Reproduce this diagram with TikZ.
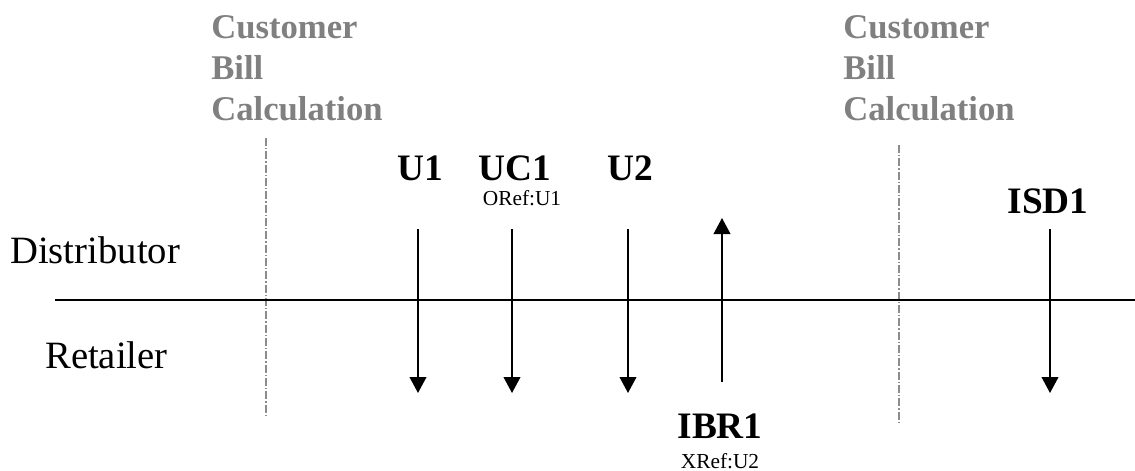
\documentclass[tikz,border=0pt]{standalone}
\usepackage{fontspec}
\setmainfont{Liberation Serif}
\usetikzlibrary{arrows.meta,positioning}

\begin{document}
\begin{tikzpicture}[x=0.75pt,y=-0.75pt,
party/.style={font=\fontsize{29}{34}\selectfont,anchor=base west,inner sep=0pt},
msg/.style={font=\fontsize{28}{33}\selectfont\bfseries,anchor=base,inner sep=0pt},
ref/.style={font=\fontsize{16}{19}\selectfont,anchor=base,inner sep=0pt},
billing/.style={font=\fontsize{26}{30.75}\selectfont\bfseries,text=gray,align=left,anchor=base west,inner sep=0pt},
flow/.style={-{Triangle[length=12pt,width=12.5pt]},line width=1.4pt},
cutoff/.style={gray!90,line width=0.8pt,dash pattern=on 6pt off 1.5pt on 1pt off 1.5pt}
]
\useasboundingbox (0,0) rectangle (1135,471);
% billing cut-offs
\node[billing] (bill1) at (211,120) {Customer\\Bill\\Calculation};
\node[billing] (bill2) at (843,120) {Customer\\Bill\\Calculation};
\coordinate (cut1a) at (266,138);
\coordinate (cut1b) at (266,415);
\coordinate (cut2a) at (899,145);
\coordinate (cut2b) at (899,423);
\draw[cutoff] (cut1a) -- (cut1b);
\draw[cutoff] (cut2a) -- (cut2b);
% parties
\node[party] (dist) at (10,263) {Distributor};
\node[party] (ret) at (45,368) {Retailer};
\coordinate (lineL) at (55,300);
\coordinate (lineR) at (1135,300);
\draw[line width=1.4pt] (lineL) -- (lineR);
% transactions
\node[msg] (u1) at (420,180) {U1};
\node[msg] (uc1) at (515,180) {UC1};
\node[ref] (oref) at (522,205) {ORef:U1};
\node[msg] (u2) at (630,180) {U2};
\node[msg] (ibr1) at (720,438) {IBR1};
\node[ref] (xref) at (720,468) {XRef:U2};
\node[msg] (isd1) at (1048,213) {ISD1};
\coordinate (u1a) at (418,229);
\coordinate (u1b) at (418,393);
\coordinate (uc1a) at (512,229);
\coordinate (uc1b) at (512,393);
\coordinate (u2a) at (628,229);
\coordinate (u2b) at (628,393);
\coordinate (ibra) at (722,382);
\coordinate (ibrb) at (722,218);
\coordinate (isda) at (1050,229);
\coordinate (isdb) at (1050,393);
\draw[flow] (u1a) -- (u1b);
\draw[flow] (uc1a) -- (uc1b);
\draw[flow] (u2a) -- (u2b);
\draw[flow] (ibra) -- (ibrb);
\draw[flow] (isda) -- (isdb);
\end{tikzpicture}
\end{document}
